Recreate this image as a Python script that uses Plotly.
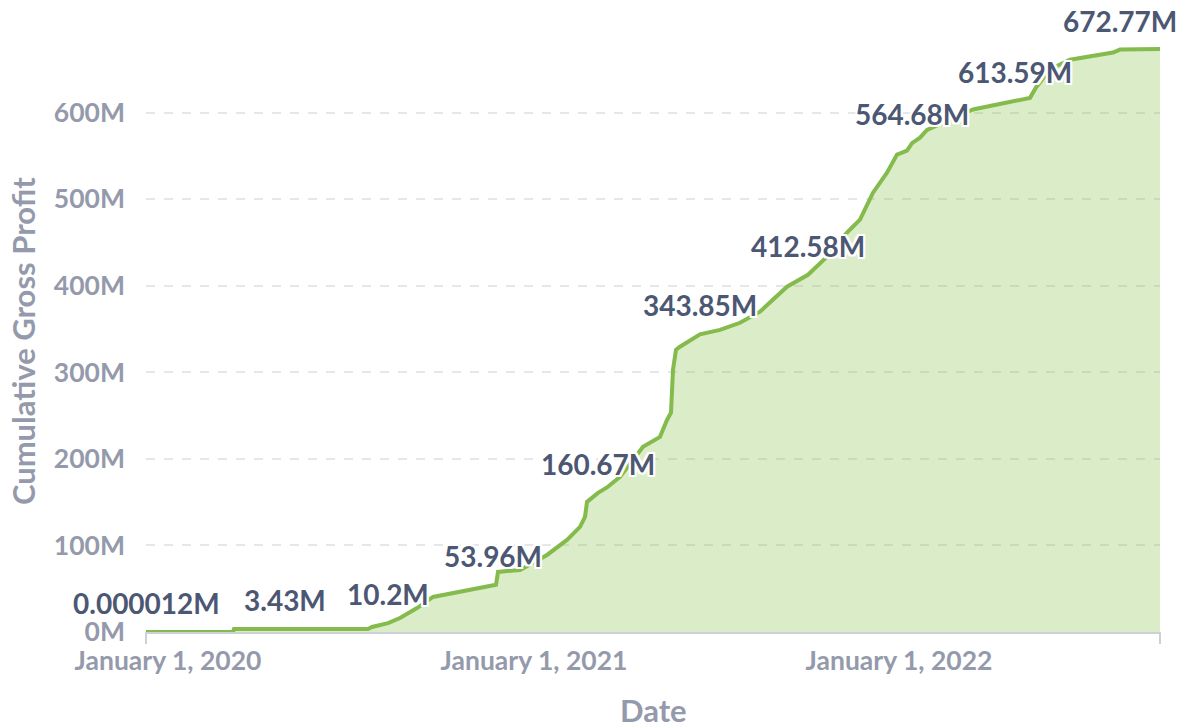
import plotly.graph_objects as go

# Cumulative gross profit (millions)
dates = [
    "2019-12-10", "2020-03-06", "2020-03-07", "2020-04-27", "2020-07-19", "2020-07-23",
    "2020-08-08", "2020-08-20", "2020-09-06", "2020-09-22", "2020-10-12", "2020-11-01",
    "2020-11-21", "2020-11-24", "2020-11-26", "2020-12-18", "2021-01-14", "2021-02-03",
    "2021-02-16", "2021-02-21", "2021-02-23", "2021-03-06", "2021-03-15", "2021-03-28",
    "2021-04-20", "2021-05-07", "2021-05-14", "2021-05-18", "2021-05-20", "2021-05-23",
    "2021-05-27", "2021-06-16", "2021-07-06", "2021-07-26", "2021-08-15", "2021-09-11",
    "2021-10-02", "2021-10-21", "2021-11-10", "2021-11-23", "2021-12-06", "2021-12-20",
    "2021-12-30", "2022-01-09", "2022-01-14", "2022-01-22", "2022-01-29", "2022-03-16",
    "2022-04-19", "2022-04-27", "2022-05-12", "2022-05-18", "2022-06-01", "2022-06-21",
    "2022-07-11", "2022-08-03", "2022-08-10", "2022-09-19",
]
profit_m = [
    0.000012, 0.000012, 3.43, 3.43, 3.43, 5.8,
    10.2, 16.2, 27.7, 40.5, 45.1, 49.7,
    53.96, 54.5, 69.4, 71.7, 89.0, 106.4,
    121.4, 133.0, 150.3, 160.67, 167.0, 179.2,
    213.9, 225.4, 245.0, 253.2, 302.9, 326.0,
    329.5, 343.85, 349.0, 357.2, 370.0, 398.8,
    412.58, 433.5, 461.3, 476.3, 507.5, 530.6,
    551.4, 556.0, 564.68, 571.0, 580.0, 603.5,
    611.6, 613.59, 617.0, 629.0, 650.0, 661.0,
    664.7, 669.4, 672.77, 673.5,
]

# Points that carry a value label
label_dates = ["2019-12-10", "2020-04-27", "2020-08-08", "2020-11-21", "2021-03-06",
               "2021-06-16", "2021-10-02", "2022-01-14", "2022-04-27", "2022-08-10"]
label_values = [0.000012, 3.43, 10.2, 53.96, 160.67, 343.85, 412.58, 564.68, 613.59, 672.77]
label_texts = ["0.000012M", "3.43M", "10.2M", "53.96M", "160.67M",
               "343.85M", "412.58M", "564.68M", "613.59M", "672.77M"]

y_ticks = [0, 100, 200, 300, 400, 500, 600]
y_tick_text = ["0M", "100M", "200M", "300M", "400M", "500M", "600M"]
x_ticks = ["2020-01-01", "2021-01-01", "2022-01-01"]
x_tick_text = ["January 1, 2020", "January 1, 2021", "January 1, 2022"]

GREEN = "#84bb4c"
LABEL = "#4c5773"
AXIS = "#949aab"
FONT = "Lato"

fig = go.Figure()
fig.add_trace(go.Scatter(
    x=dates, y=profit_m, mode="lines",
    line=dict(color=GREEN, width=4),
    fill="tozeroy", fillcolor="rgba(136,191,77,0.30)",
    hoverinfo="x+y", showlegend=False,
))

shadow = ("2px 0 0 white, -2px 0 0 white, 0 2px 0 white, 0 -2px 0 white, "
          "2px 2px 0 white, -2px -2px 0 white, 2px -2px 0 white, -2px 2px 0 white")
annotations = []
for d, v, t in zip(label_dates, label_values, label_texts):
    annotations.append(dict(
        x=d, y=v, xref="x", yref="y", text=t, showarrow=False,
        xanchor="center", yanchor="bottom", yshift=10,
        font=dict(family=FONT, size=28, color=LABEL, weight="bold", shadow=shadow),
    ))

# axis titles
annotations.append(dict(
    text="Date", xref="paper", yref="paper", x=0.5, y=0, yshift=-78,
    xanchor="center", yanchor="middle", showarrow=False, borderpad=0,
    font=dict(family=FONT, size=31, color=AXIS, weight="bold"),
))
annotations.append(dict(
    text="Cumulative Gross Profit", xref="paper", yref="paper", x=0, y=0.48, xshift=-123,
    xanchor="center", yanchor="middle", showarrow=False, textangle=-90,
    font=dict(family=FONT, size=31, color=AXIS, weight="bold"),
))

fig.update_layout(
    width=1183, height=728,
    margin=dict(l=146, r=23, t=26, b=96, autoexpand=False),
    paper_bgcolor="white", plot_bgcolor="white",
    font=dict(family=FONT, color=AXIS, size=26, weight="bold"),
    annotations=annotations,
    xaxis=dict(
        range=["2019-12-10", "2022-09-19"],
        tickvals=x_ticks, ticktext=x_tick_text,
        tickfont=dict(family=FONT, size=26.5, color=AXIS, weight="bold"),
        showgrid=False, zeroline=False, automargin=False,
        showline=True, linecolor="#cdd0d6", linewidth=2,
        ticks="", ticklabelstandoff=4,
    ),
    yaxis=dict(
        range=[0, 700],
        tickvals=y_ticks, ticktext=y_tick_text,
        tickfont=dict(family=FONT, size=26.5, color=AXIS, weight="bold"),
        showgrid=True, gridcolor="#e6e7ea", griddash="dash", gridwidth=1.5,
        zeroline=False, showline=False, ticks="", ticklabelstandoff=20, automargin=False,
    ),
    shapes=[
        dict(type="line", xref="paper", yref="paper", x0=0, x1=0, y0=0, y1=-0.02,
             line=dict(color="#cdd0d6", width=2)),
        dict(type="line", xref="paper", yref="paper", x0=1, x1=1, y0=0, y1=-0.02,
             line=dict(color="#cdd0d6", width=2)),
    ],
)

fig.write_html(
    "out.html",
    config={"displayModeBar": False},
    post_script="document.body.style.margin='0';document.body.style.overflow='hidden';",
)
